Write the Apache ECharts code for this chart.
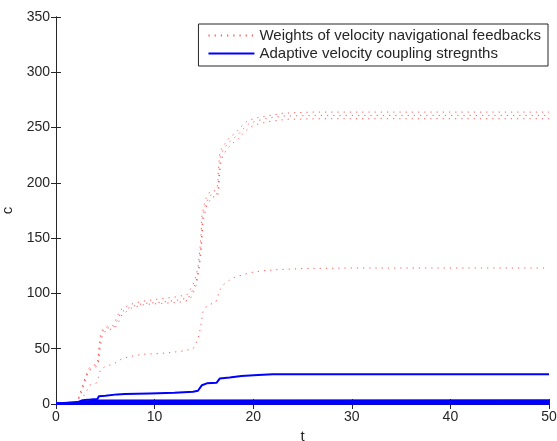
<!DOCTYPE html>
<html><head><meta charset="utf-8">
<script src="https://cdn.jsdelivr.net/npm/echarts@6/dist/echarts.min.js"></script>
<style>html,body{margin:0;padding:0;background:#fff}#c{width:557px;height:441px}</style>
</head><body><div id="c"></div>
<script>
// tick labels
var xTicks = [0, 10, 20, 30, 40, 50];
var yTicks = [0, 50, 100, 150, 200, 250, 300, 350];
var redName = 'Weights of velocity navigational feedbacks';
var blueName = 'Adaptive velocity coupling stregnths';

// red dotted curves: [t, c]
var redA = [[0,0],[1.5,0.5],[2,2],[2.3,6],[2.7,17],[3,25],[3.3,32],[3.8,35],[4.2,37],[4.35,50],[4.5,62],[4.8,69],[5.8,71],[6.2,79],[6.5,85],[7.5,90],[8.8,93],[10.5,95],[12.3,97],[13.3,99],[13.6,103],[14.1,112],[14.4,124],[14.6,140],[14.7,151],[14.8,170],[15.1,184],[15.6,192],[16.2,193],[16.4,198],[16.5,215],[16.6,227],[16.8,231],[17.1,235],[17.6,241],[18.3,246],[18.8,251],[19.4,256],[20.2,258.5],[21.4,260.5],[23,263],[26,264],[50,264]];
var redB = [[0,0],[1.6,0.5],[2.1,2],[2.4,7],[2.8,18],[3.1,26],[3.4,31],[3.9,34],[4.25,36],[4.4,52],[4.6,63],[4.9,68],[5.9,70],[6.3,77],[6.6,83],[7.6,88],[8.9,91],[10.6,92],[12.4,94],[13.4,96],[13.7,100],[14.2,110],[14.45,122],[14.65,138],[14.75,150],[14.85,168],[15.2,182],[15.7,189],[16.3,190],[16.45,195],[16.55,212],[16.7,224],[16.9,229],[17.2,233],[17.7,238],[18.4,243],[18.9,248],[19.5,253],[20.3,256],[21.5,258.5],[23.2,260.5],[26.5,261],[50,261]];
var redC = [[0,0],[1.7,0.5],[2.2,2.5],[2.5,8],[2.9,19],[3.2,27],[3.5,31],[4,33],[4.3,36],[4.45,48],[4.65,60],[5,66],[6,69],[6.4,75],[6.7,81],[7.7,87],[9,90],[10.7,91],[12.5,92],[13.5,94],[13.8,98],[14.25,108],[14.5,120],[14.7,136],[14.8,148],[14.9,165],[15.3,180],[15.8,187],[16.4,188],[16.5,193],[16.6,208],[16.75,220],[17,226],[17.3,230],[17.8,235],[18.5,240],[19,245],[19.6,250],[20.4,253],[21.6,255.5],[23.4,257.5],[27,258],[50,258]];
var redD = [[0,0],[2,0.5],[2.5,3],[3,10],[3.4,17],[4.1,19],[4.3,24],[4.5,31],[5,34],[5.8,36],[6.7,41],[7.5,43],[8.8,45],[10.2,45.5],[11.6,46.5],[12.9,48],[13.9,50],[14.2,55],[14.5,62],[14.7,72],[14.9,83],[15.1,87],[15.6,90],[16.2,92],[16.4,97],[16.6,103],[17,108],[17.6,112],[18.2,115],[19,117],[19.8,119],[21,120.5],[22.5,121.5],[25,122.5],[30,123],[50,123]];

// blue solid curves
var blueE = [[0,0.5],[2,1],[2.7,3.5],[3.5,4],[4.2,4.5],[4.35,7],[5,7.5],[6.2,8.7],[7,9],[9.5,9.6],[12,10.2],[13.9,11],[14.4,12],[14.6,13],[14.8,17],[15.3,18.7],[16.3,19.3],[16.6,23],[17.6,24],[18.8,25.3],[20.5,26.2],[22,26.8],[50,27]];
var blueF = [[0,0.2],[50,0.2]];
var blueG = [[0,0.5],[3,1],[4,1.2],[50,1.5]];
var blueH = [[0,0.5],[2.5,1.5],[4,2.5],[50,2.8]];
var blueI = [[0,0.3],[3,0.6],[50,0.8]];
var blueJ = [[0,0.4],[2.8,2],[4,3.2],[50,3.3]];

var redSets = [redA, redB, redC, redD];
var blueSets = [blueF, blueI, blueG, blueH, blueJ, blueE];

var series = [];
redSets.forEach(function (d) {
  series.push({
    name: redName, type: 'line', data: d, symbol: 'none', showSymbol: false,
    lineStyle: {color: '#ff2020', width: 1, type: [1.2, 5], opacity: 0.75},
    itemStyle: {color: '#ff2020'}, z: 3
  });
});
blueSets.forEach(function (d) {
  series.push({
    name: blueName, type: 'line', data: d, symbol: 'none', showSymbol: false, clip: false,
    lineStyle: {color: '#0000ff', width: 2}, itemStyle: {color: '#0000ff'}, z: 4
  });
});

var font = 'Liberation Sans, Arial, Helvetica, sans-serif';
var axisCommon = {
  axisLine: {show: true, lineStyle: {color: '#262626', width: 1}},
  axisTick: {show: true, inside: true, length: 5, lineStyle: {color: '#262626'}},
  splitLine: {show: false}
};
var chart = echarts.init(document.getElementById('c'), null, {renderer: 'canvas'});
chart.setOption({
  animation: false,
  backgroundColor: '#fff',
  textStyle: {fontFamily: font},
  grid: {left: 56, right: 8, top: 17, bottom: 37, containLabel: false, outerBoundsMode: 'none'},
  legend: {
    orient: 'vertical', right: 9, top: 24,
    data: [redName, blueName],
    backgroundColor: '#fff', borderColor: '#262626', borderWidth: 1,
    padding: [4, 7, 5, 9], itemGap: 3, itemWidth: 46, itemHeight: 12,
    itemStyle: {opacity: 0},
    textStyle: {fontFamily: font, fontSize: 15, color: '#262626'}
  },
  xAxis: [
    Object.assign({type: 'value', min: xTicks[0], max: xTicks[xTicks.length - 1], interval: 10,
      position: 'bottom', name: 't', nameLocation: 'middle', nameGap: 24,
      nameTextStyle: {fontFamily: font, fontSize: 15, color: '#262626'},
      axisLabel: {fontFamily: font, fontSize: 14, color: '#262626', margin: 6}}, axisCommon),
    Object.assign({type: 'value', min: xTicks[0], max: xTicks[xTicks.length - 1], interval: 10,
      position: 'top', axisLabel: {show: false}}, axisCommon)
  ],
  yAxis: [
    Object.assign({type: 'value', min: yTicks[0], max: yTicks[yTicks.length - 1], interval: 50,
      position: 'left', name: 'c', nameLocation: 'middle', nameGap: 40,
      nameTextStyle: {fontFamily: font, fontSize: 15, color: '#262626'},
      axisLabel: {fontFamily: font, fontSize: 14, color: '#262626', margin: 6}}, axisCommon),
    Object.assign({type: 'value', min: yTicks[0], max: yTicks[yTicks.length - 1], interval: 50,
      position: 'right', axisLabel: {show: false}}, axisCommon)
  ],
  series: series
});
</script></body></html>
